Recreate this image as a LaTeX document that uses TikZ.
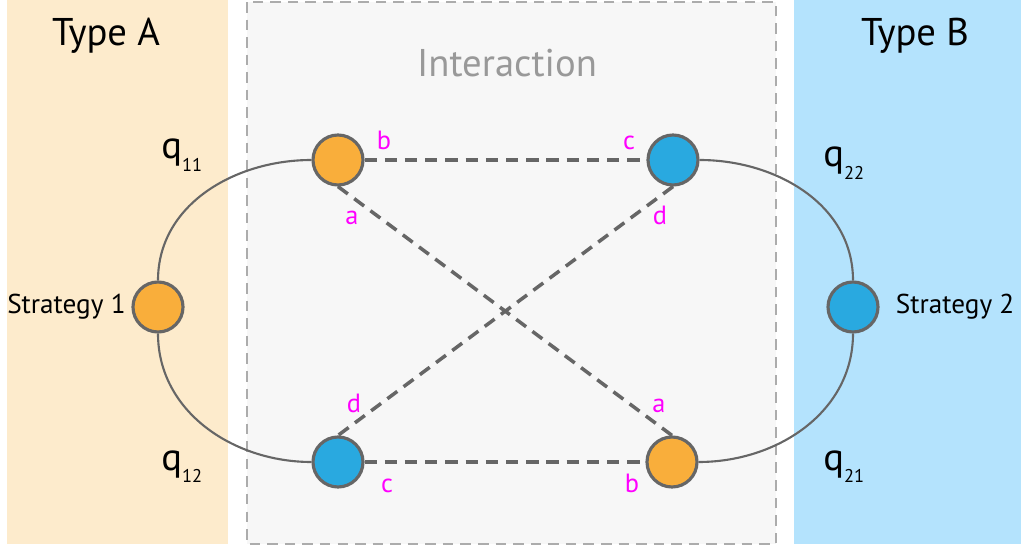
\documentclass[tikz,border=0pt]{standalone}
\usepackage{fontspec}
\setmainfont{PT Sans}
\usepackage{xcolor}
\usepackage{tikz}
\usetikzlibrary{positioning}

\definecolor{peach}{RGB}{253,235,204}
\definecolor{skyblue}{RGB}{180,227,253}
\definecolor{boxgray}{RGB}{247,247,247}
\definecolor{dashgray}{RGB}{172,172,172}
\definecolor{linegray}{RGB}{102,102,102}
\definecolor{sorange}{RGB}{249,174,59}
\definecolor{sblue}{RGB}{41,169,224}
\definecolor{pink}{RGB}{255,0,255}

\newcommand{\qlab}[1]{q\raisebox{-7pt}{\fontsize{10.5}{12}\selectfont #1}}

\begin{document}
\begin{tikzpicture}[x=0.02cm,y=-0.02cm,semithick]
	\tikzstyle{orng}=[draw=linegray, line width=1.8pt, circle, fill=sorange, minimum size=1cm, inner sep=0pt]
	\tikzstyle{blu}=[orng, fill=sblue]
	\tikzstyle{lbl}=[text=pink, font=\fontsize{15}{18}\selectfont, anchor=base]
	\tikzstyle{big}=[font=\fontsize{22}{26}\selectfont, anchor=base]
	\tikzstyle{strat}=[font=\fontsize{15.5}{18}\selectfont, inner sep=3pt]
	\tikzstyle{link}=[draw=linegray, line width=1.2pt]
	\tikzstyle{pair}=[draw=linegray, line width=2pt, dash pattern=on 7pt off 4.5pt]

	\useasboundingbox (0,0) rectangle (1021,550);
	% panels
	\fill[peach] (7,0) rectangle (228,544);
	\fill[skyblue] (794,0) rectangle (1021,544);
	\draw[dashgray, fill=boxgray, line width=1.3pt, dash pattern=on 6pt off 4pt] (247,2) rectangle (776,544);

	\node[big] (typeA) at (106,46) {Type A};
	\node[big] (typeB) at (915,46) {Type B};
	\node[big, text=black!40] (inter) at (507,77) {Interaction};

	% strategies
	\node[orng] (S1) at (158,307) {};
	\node[blu]  (S2) at (853,307) {};
	\node[strat] (st1) [left=0pt of S1]  {Strategy 1};
	\node[strat] (st2) [right=6pt of S2] {Strategy 2};

	% pairs
	\node[orng] (A1) at (338,160) {};
	\node[blu]  (B1) at (673,160) {};
	\node[blu]  (B2) at (338,462) {};
	\node[orng] (A2) at (672,462) {};

	\node[big, anchor=base west] (q11) at (155,159) {\qlab{11}};
	\node[big, anchor=base west] (q12) at (155,470) {\qlab{12}};
	\node[big, anchor=base west] (q22) at (817,167) {\qlab{22}};
	\node[big, anchor=base west] (q21) at (817,470) {\qlab{21}};

	\path
		(S1.north) edge [link, out=90, in=180] (A1.west)
		(S1.south) edge [link, out=-90, in=180] (B2.west)
		(B1.east) edge [link, out=0, in=90] (S2.north)
		(A2.east) edge [link, out=0, in=-90] (S2.south)
		(A1) edge [pair] (B1)
		(B2) edge [pair] (A2)
		(A1.south) edge [pair] (A2.north)
		(B1.south) edge [pair] (B2.north);

	% payoff letters
	\node[lbl] (lb1) at (384,150) {b};
	\node[lbl] (la1) at (352,225) {a};
	\node[lbl] (lc1) at (629,150) {c};
	\node[lbl] (ld1) at (660,225) {d};
	\node[lbl] (ld2) at (354,413) {d};
	\node[lbl] (lc2) at (387,492) {c};
	\node[lbl] (la2) at (659,413) {a};
	\node[lbl] (lb2) at (632,492) {b};
\end{tikzpicture}
\end{document}
